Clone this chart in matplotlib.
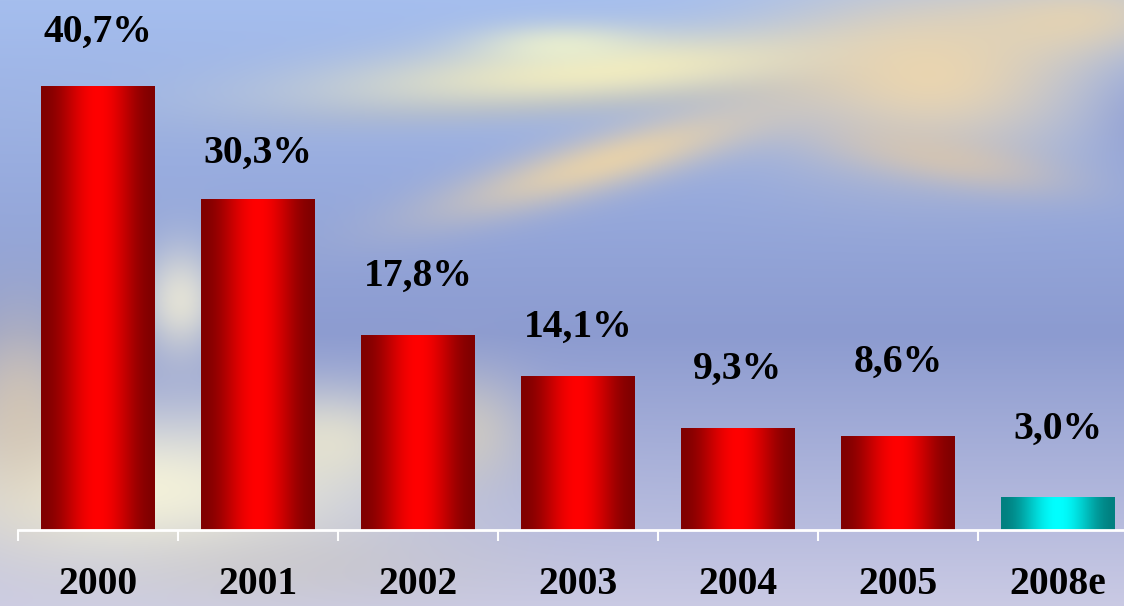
import numpy as np
import matplotlib.pyplot as plt
from matplotlib.transforms import blended_transform_factory

years = ['2000', '2001', '2002', '2003', '2004', '2005', '2008e']
values = [40.7, 30.3, 17.8, 14.1, 9.3, 8.6, 3.0]
labels = ['40,7%', '30,3%', '17,8%', '14,1%', '9,3%', '8,6%', '3,0%']
is_estimate = [False, False, False, False, False, False, True]

# gap between bar top and label baseline, in pixels (as in the slide)
label_gap = [44, 37, 50, 39, 50, 64, 58]

W, H = 1124, 606
fig = plt.figure(figsize=(W / 100, H / 100), dpi=100)

# blurry sky background
yy, xx = np.mgrid[0:H, 0:W].astype(float)
t = yy / H
top = np.array([165, 190, 238]) / 255
mid = np.array([140, 155, 208]) / 255
bot = np.array([202, 202, 228]) / 255
w1 = np.clip(1 - t / 0.55, 0, 1)[..., None]
w3 = np.clip((t - 0.55) / 0.45, 0, 1)[..., None]
img = top * w1 + bot * w3 + mid * (1 - w1 - w3)

def blob(img, cx, cy, sx, sy, color, strength, angle=0):
    a_ = np.deg2rad(angle)
    dx, dy = xx - cx, yy - cy
    u = dx * np.cos(a_) + dy * np.sin(a_)
    v = -dx * np.sin(a_) + dy * np.cos(a_)
    a = strength * np.exp(-((u / sx) ** 2 + (v / sy) ** 2) / 2)
    a = a[..., None]
    return img * (1 - a) + np.array(color) / 255 * a

# plane shape, top centre-right
img = blob(img, 620, 95, 190, 14, (150, 150, 165), 0.35, -4)       # shadow under arm
img = blob(img, 610, 70, 200, 24, (242, 236, 190), 0.95, -4)      # upper arm
img = blob(img, 930, 75, 110, 60, (236, 214, 175), 0.95)          # body
img = blob(img, 1070, 20, 90, 28, (232, 212, 175), 0.85, -5)      # right arm
img = blob(img, 610, 160, 120, 20, (236, 212, 168), 0.9, -16)     # lower arm
img = blob(img, 950, 160, 80, 18, (225, 200, 165), 0.6, 10)
img = blob(img, 560, 45, 60, 15, (242, 246, 205), 0.7)
img = blob(img, 1150, 120, 40, 40, (130, 140, 200), 0.4)
# light patches near the bottom left
img = blob(img, 140, 490, 160, 55, (250, 247, 218), 0.9)
img = blob(img, 180, 300, 30, 40, (245, 240, 215), 0.8)
img = blob(img, 20, 410, 45, 70, (218, 200, 172), 0.75)
img = blob(img, 330, 440, 60, 35, (240, 235, 205), 0.7)
img = blob(img, 470, 430, 40, 40, (222, 212, 185), 0.6)
img = blob(img, 300, 565, 140, 30, (200, 195, 185), 0.4)

bg = fig.add_axes([0, 0, 1, 1], zorder=0)
bg.imshow(np.clip(img, 0, 1), aspect='auto', extent=[0, 1, 0, 1])
bg.axis('off')

ax = fig.add_axes([18 / W, 76 / H, 1120 / W, 530 / H], zorder=1)
ax.patch.set_alpha(0)
x = np.arange(len(years))
bars = ax.bar(x, values, width=0.7125, color='none', edgecolor='none')

prof = np.linspace(0, 1, 256)
shade = 0.5 - 0.5 * np.cos(2 * np.pi * prof)
for b, est in zip(bars, is_estimate):
    if est:
        c0, c1 = np.array([0, 128, 128]) / 255, np.array([0, 255, 255]) / 255
    else:
        c0, c1 = np.array([128, 0, 0]) / 255, np.array([255, 0, 0]) / 255
    grad = c0 + (c1 - c0) * shade[:, None]
    ax.imshow(grad[None, :, :], extent=[b.get_x(), b.get_x() + b.get_width(), 0, b.get_height()],
              aspect='auto', zorder=2)

scale = 530 / 48.6
for i, v in enumerate(values):
    ax.text(x[i], v + label_gap[i] / scale, labels[i], ha='center', va='baseline',
            fontsize=28.5, fontweight='bold', family='Liberation Serif', color='black')

trans = blended_transform_factory(ax.transData, ax.transAxes)
for i, yr in enumerate(years):
    ax.text(x[i], -64 / 530, yr, ha='center', va='baseline', transform=trans,
            fontsize=28.5, fontweight='bold', family='Liberation Serif', color='black')

ax.set_xlim(-0.5, len(years) - 0.5)
ax.set_ylim(0, 48.6)
for s in ['top', 'right', 'left']:
    ax.spines[s].set_visible(False)
ax.spines['bottom'].set_color('white')
ax.spines['bottom'].set_linewidth(2)
ax.set_yticks([])
ax.set_xticks(np.arange(len(years)) - 0.5)
ax.set_xticklabels([])
ax.tick_params(axis='x', colors='white', direction='out', length=8, width=1.5)

fig.savefig('out.png', dpi=100)
